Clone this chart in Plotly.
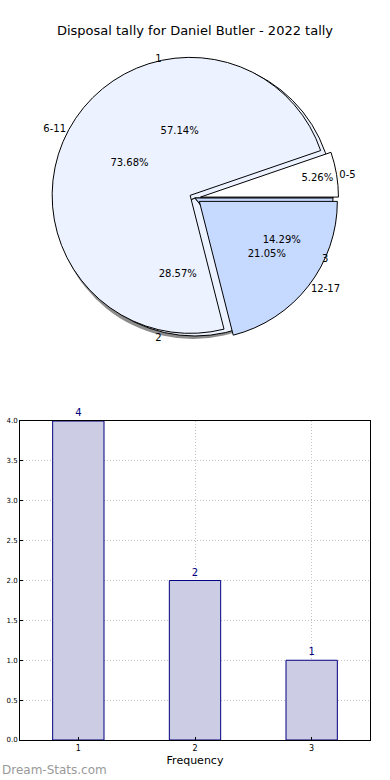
import plotly.graph_objects as go

# ---- data ----
title = "Disposal tally for Daniel Butler - 2022 tally"
freq_labels = ["1", "2", "3"]
freq_values = [4, 2, 1]
range_labels = ["0-5", "6-11", "12-17"]
range_values = [1, 14, 4]
bar_x = [1, 2, 3]
bar_y = [4, 2, 1]
x_title = "Frequency"
watermark = "Dream-Stats.com"

W, H = 390, 780
FONT = "DejaVu Sans"


def px(sx):
    return sx / W


def py(sy):
    return 1 - sy / H


# pie geometry (pixels)
cx, cy, r = 195, 198, 138
pull = 0.04


def dom(rad, dx=0, dy=0):
    return dict(x=[px(cx + dx - rad), px(cx + dx + rad)],
                y=[py(cy + dy + rad), py(cy + dy - rad)])


def rot(values):
    # first slice starts at 3 o'clock and runs counterclockwise (matplotlib style)
    return 90 - 360.0 * values[0] / sum(values)


base_dom = dom(r)
pull_dom = dom(r * (1 + pull))
shadow_dom = dom(r, -2, 3)

common = dict(sort=False, direction="counterclockwise",
              hoverinfo="skip", showlegend=False)
clear3 = ["rgba(0,0,0,0)"] * 3
fr_rot = rot(freq_values)
rg_rot = rot(range_values)

fig = go.Figure()

# shadow
fig.add_trace(go.Pie(labels=freq_labels, values=freq_values, domain=shadow_dom,
                     rotation=fr_rot,
                     marker=dict(colors=["rgba(0,0,0,0.45)"] * 3, line=dict(width=0)),
                     textinfo="none", **common))
# base pie (1,2,3)
fig.add_trace(go.Pie(labels=freq_labels, values=freq_values, domain=base_dom,
                     rotation=fr_rot,
                     marker=dict(colors=["#ECF2FF", "#ECF2FF", "#C6D9FF"],
                                 line=dict(color="black", width=1)),
                     textinfo="none", **common))
# top exploded pie (age ranges)
fig.add_trace(go.Pie(labels=range_labels, values=range_values, domain=pull_dom,
                     rotation=rg_rot, pull=[pull] * 3,
                     marker=dict(colors=["#FFFFFF", "#ECF2FF", "#C6D9FF"],
                                 line=dict(color="black", width=1)),
                     textinfo="none", **common))
# text layers
fig.add_trace(go.Pie(labels=freq_labels, values=freq_values, domain=base_dom,
                     rotation=fr_rot,
                     marker=dict(colors=clear3, line=dict(width=0)),
                     texttemplate="%{percent:.2%}", textposition="inside",
                     insidetextorientation="horizontal",
                     textfont=dict(family=FONT, size=10, color="black"), **common))
fig.add_trace(go.Pie(labels=range_labels, values=range_values, domain=pull_dom,
                     rotation=rg_rot, pull=[pull] * 3,
                     marker=dict(colors=clear3, line=dict(width=0)),
                     texttemplate="%{percent:.2%}", textposition="inside",
                     insidetextorientation="horizontal",
                     textfont=dict(family=FONT, size=10, color="black"), **common))
fig.add_trace(go.Pie(labels=freq_labels, values=freq_values, domain=base_dom,
                     rotation=fr_rot,
                     marker=dict(colors=clear3, line=dict(width=0)),
                     texttemplate="%{label}", textposition="outside",
                     textfont=dict(family=FONT, size=10, color="black"), **common))
fig.add_trace(go.Pie(labels=range_labels, values=range_values, domain=pull_dom,
                     rotation=rg_rot, pull=[pull] * 3,
                     marker=dict(colors=clear3, line=dict(width=0)),
                     texttemplate="%{label}", textposition="outside",
                     textfont=dict(family=FONT, size=10, color="black"), **common))

# bar chart
fig.add_trace(go.Bar(x=bar_x, y=bar_y, width=0.44,
                     marker=dict(color="#CCCCE5", line=dict(color="#000080", width=1)),
                     text=[str(v) for v in bar_y], textposition="outside",
                     textfont=dict(family=FONT, size=10, color="#000080"),
                     cliponaxis=False, hoverinfo="skip", showlegend=False))

grid = dict(showgrid=True, gridcolor="#c4c4c4", griddash="1px,2px", gridwidth=1,
            showline=True, linecolor="black", linewidth=1, mirror=True,
            zeroline=False, automargin=False,
            ticks="inside", ticklen=3, tickcolor="black")

fig.update_layout(
    width=W, height=H,
    margin=dict(l=0, r=0, t=0, b=0, autoexpand=False),
    paper_bgcolor="white", plot_bgcolor="white",
    font=dict(family=FONT, color="black"),
    uniformtext=dict(minsize=10, mode="show"),
    title=dict(text=title, x=px(195), xanchor="center", y=py(30), yanchor="middle",
               font=dict(family=FONT, size=13, color="black")),
    xaxis=dict(domain=[px(20), px(370)], range=[0.5, 3.5], tickvals=bar_x,
               tickfont=dict(size=8, family=FONT),
               title=dict(text=x_title, font=dict(size=11, family=FONT), standoff=4),
               **grid),
    yaxis=dict(domain=[py(740), py(421)], range=[0, 4], dtick=0.5, tickformat=".1f",
               tickfont=dict(size=7, family=FONT), **grid),
    annotations=[dict(text=watermark, xref="paper", yref="paper", x=px(0), y=py(770),
                      xanchor="left", yanchor="middle", showarrow=False,
                      font=dict(family=FONT, size=12, color="#999999"))],
)

# remove the default 8px page margin so the figure fills the window exactly
fig.write_html("out.html",
               config={"displayModeBar": False},
               post_script="document.body.style.margin='0px';"
                           "document.documentElement.style.overflow='hidden';")
